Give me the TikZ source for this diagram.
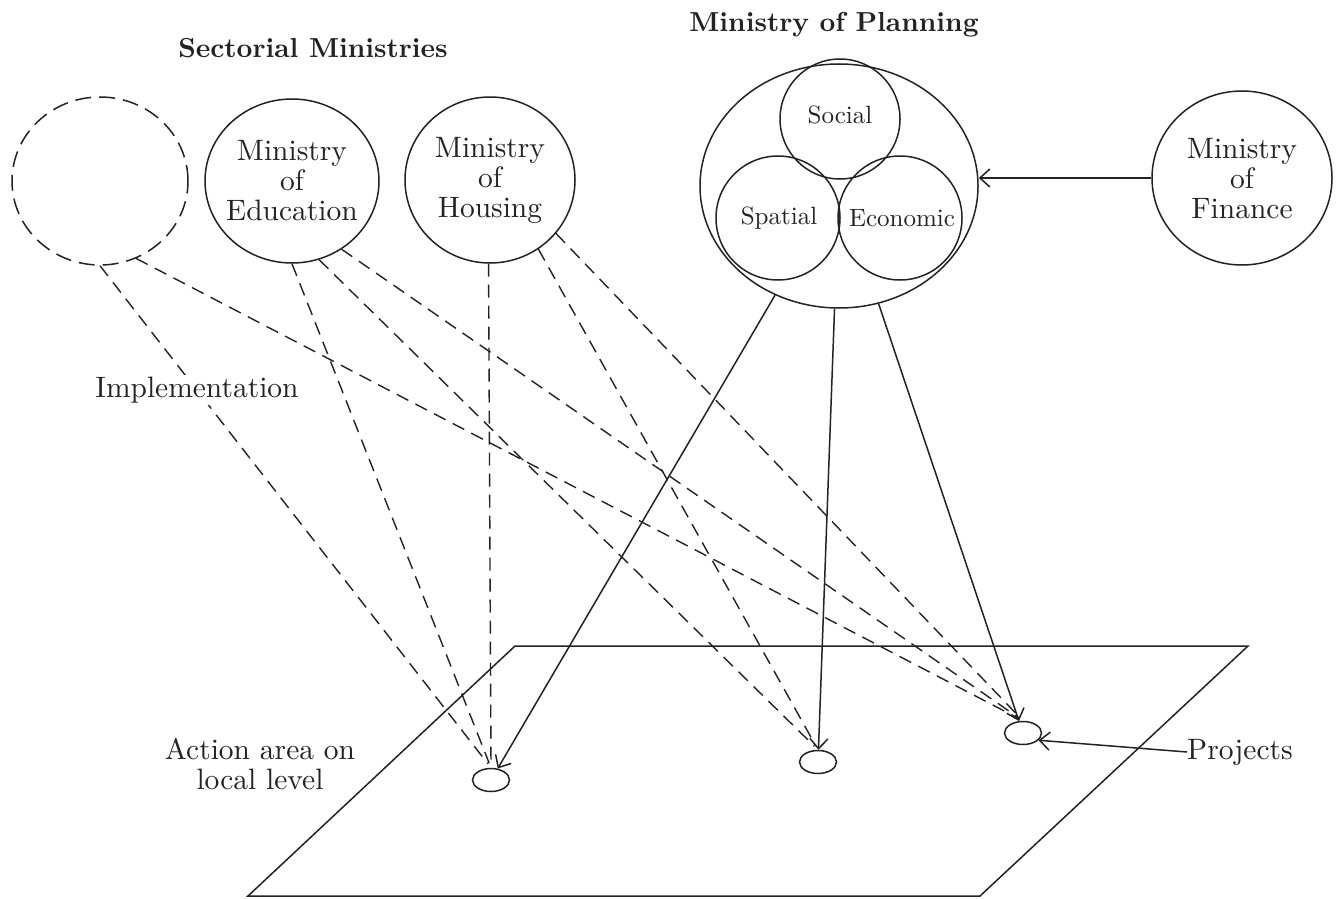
\documentclass[tikz,border=0pt]{standalone}
\usepackage{fontspec}
\setmainfont{lmroman10-regular}[Extension=.otf, BoldFont=lmroman10-bold, ItalicFont=lmroman10-italic]
\usetikzlibrary{shapes.geometric,arrows.meta}
\definecolor{ink}{RGB}{35,35,35}
\begin{document}
\begin{tikzpicture}[x=1pt,y=-1pt,
  ring/.style={draw=ink, line width=1.5pt, ellipse, inner sep=0pt},
  dashring/.style={ring, dash pattern=on 16pt off 8pt},
  target/.style={draw=ink, line width=1.5pt, ellipse, inner sep=0pt, minimum width=37pt, minimum height=23pt},
  txt/.style={text=ink, font=\fontsize{29.5}{30}\selectfont, align=center, inner sep=0pt},
  sub/.style={text=ink, font=\fontsize{25}{26}\selectfont, inner sep=0pt},
  ttl/.style={text=ink, font=\fontsize{27.5}{28}\selectfont\bfseries, inner sep=0pt},
  plane/.style={draw=ink, line width=1.5pt, line join=miter},
  arr/.style={draw=ink, line width=1.5pt, -{Straight Barb[length=10pt,width=18pt,line width=1.5pt]}},
  impl/.style={draw=ink, line width=1.4pt, dash pattern=on 13pt off 8pt, shorten >=5pt}
]
\useasboundingbox (0,0) rectangle (1338,899);
\fill[white] (0,0) rectangle (1338,899);

% titles
\node[ttl, anchor=base] (secT) at (313,57) {Sectorial Ministries};
\node[ttl, anchor=base] (planT) at (834,32) {Ministry of Planning};

% sectorial ministries
\node[dashring, minimum width=176pt, minimum height=168pt] (dc) at (100,181) {};
\node[ring, minimum width=174pt, minimum height=164pt] (edu) at (292,181) {};
\node[txt] (eduL) at (292,181) {Ministry\\of\\Education};
\node[ring, minimum width=170pt, minimum height=166pt] (hou) at (490,180) {};
\node[txt] (houL) at (490,180) {Ministry\\of\\Housing};

% ministry of planning
\node[ring, minimum width=278pt, minimum height=244pt] (plan) at (839,186) {};
\node[ring, minimum size=120pt] (soc) at (840,119) {};
\node[ring, minimum size=124pt] (spa) at (778,218) {};
\node[ring, minimum size=124pt] (eco) at (900,218) {};
\node[sub] (socL) at (840,115) {Social};
\node[sub] (spaL) at (779,218) {Spatial};
\node[sub] (ecoL) at (902,218) {Economic};

% ministry of finance
\node[ring, minimum width=180pt, minimum height=174pt] (fin) at (1242,178) {};
\node[txt] (finL) at (1242,179) {Ministry\\of\\Finance};
\draw[arr] (fin.west) -- (fin.west -| plan.east);

% action area plane
\draw[plane] (515,646) -- (1248,646) -- (980,896) -- (248,896) -- cycle;
\node[target] (t1) at (491,780) {};
\node[target] (t2) at (818,762) {};
\node[target] (t3) at (1023,733) {};

% implementation (dashed)
\draw[impl] (dc.-90) -- (t1.north);
\draw[impl] (dc.-65) -- (t3.north);
\draw[impl] (edu.-90) -- (t1.north);
\draw[impl] (edu.-71) -- (t2.north);
\draw[impl] (edu.-54) -- (t3.north);
\draw[impl] (hou.-91) -- (t1.north);
\draw[impl] (hou.-55) -- (t2.north);
\draw[impl] (hou.-39) -- (t3.north);

% planning (solid)
\draw[arr] (plan) -- (t1);
\draw[arr] (plan) -- (t2);
\draw[arr] (plan) -- (t3);

% labels
\node[txt, fill=white, inner sep=2pt] (implL) at (197,390) {Implementation};
\node[txt] (areaL) at (260,764) {Action area on\\local level};
\node[txt] (projL) at (1240,752) {Projects};
\draw[arr] (projL.west) -- (t3.-25);
\end{tikzpicture}
\end{document}
